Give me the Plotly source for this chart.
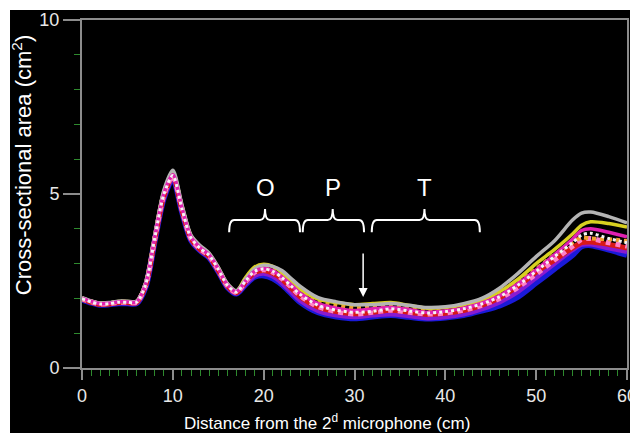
import plotly.graph_objects as go

# ---------------- data ----------------
X = [0, 1, 2, 3, 4, 5, 6, 7, 8, 9, 10, 11, 12, 13, 14, 15, 16, 17,
     18, 19, 20, 21, 22, 23, 24, 26, 28, 30, 32, 34, 36, 38, 40, 42, 44, 46, 48, 50, 52, 54, 55, 56, 58, 60]

gray = [2.02, 1.93, 1.87, 1.88, 1.92, 1.92, 1.92, 2.45, 3.80, 5.10, 5.68, 4.70, 3.82, 3.52, 3.30, 2.90, 2.43, 2.22,
        2.55, 2.85, 2.95, 2.92, 2.80, 2.58, 2.35, 2.02, 1.90, 1.82, 1.82, 1.85, 1.80, 1.74, 1.76, 1.85, 2.00, 2.30, 2.72, 3.20, 3.65, 4.25, 4.45, 4.48, 4.35, 4.17]
yellow = [2.01, 1.92, 1.86, 1.87, 1.91, 1.91, 1.91, 2.43, 3.78, 5.05, 5.62, 4.66, 3.80, 3.50, 3.28, 2.88, 2.42, 2.21,
          2.60, 2.90, 2.98, 2.92, 2.75, 2.50, 2.27, 1.98, 1.88, 1.82, 1.85, 1.88, 1.80, 1.72, 1.74, 1.82, 1.95, 2.20, 2.55, 3.00, 3.40, 3.85, 4.10, 4.20, 4.15, 4.05]
orange = [2.00, 1.91, 1.85, 1.86, 1.90, 1.90, 1.90, 2.41, 3.76, 5.02, 5.58, 4.62, 3.78, 3.48, 3.26, 2.86, 2.40, 2.20,
          2.55, 2.85, 2.92, 2.86, 2.68, 2.45, 2.20, 1.92, 1.80, 1.72, 1.75, 1.80, 1.72, 1.65, 1.68, 1.76, 1.90, 2.12, 2.45, 2.85, 3.25, 3.60, 3.75, 3.72, 3.70, 3.65]
magenta = [2.00, 1.91, 1.85, 1.86, 1.90, 1.90, 1.90, 2.40, 3.74, 5.00, 5.55, 4.60, 3.76, 3.46, 3.25, 2.85, 2.39, 2.19,
           2.50, 2.78, 2.86, 2.80, 2.62, 2.40, 2.15, 1.85, 1.72, 1.65, 1.70, 1.74, 1.68, 1.60, 1.64, 1.72, 1.86, 2.08, 2.42, 2.82, 3.25, 3.70, 3.95, 4.00, 3.90, 3.77]
white = [1.99, 1.90, 1.84, 1.85, 1.89, 1.89, 1.89, 2.39, 3.72, 4.98, 5.53, 4.58, 3.74, 3.44, 3.24, 2.84, 2.38, 2.18,
         2.50, 2.78, 2.85, 2.78, 2.60, 2.36, 2.12, 1.80, 1.66, 1.60, 1.63, 1.70, 1.64, 1.58, 1.62, 1.70, 1.84, 2.05, 2.38, 2.78, 3.20, 3.60, 3.82, 3.87, 3.72, 3.60]
pink = [1.99, 1.90, 1.84, 1.85, 1.89, 1.89, 1.89, 2.38, 3.70, 4.96, 5.52, 4.56, 3.72, 3.42, 3.22, 2.82, 2.37, 2.17,
        2.48, 2.75, 2.82, 2.75, 2.57, 2.33, 2.08, 1.76, 1.62, 1.55, 1.60, 1.66, 1.60, 1.55, 1.58, 1.66, 1.80, 2.00, 2.32, 2.70, 3.10, 3.50, 3.70, 3.72, 3.60, 3.50]
red = [1.98, 1.89, 1.83, 1.84, 1.88, 1.88, 1.88, 2.37, 3.68, 4.94, 5.50, 4.55, 3.71, 3.41, 3.21, 2.81, 2.36, 2.16,
       2.48, 2.74, 2.80, 2.72, 2.55, 2.30, 2.05, 1.75, 1.62, 1.56, 1.60, 1.66, 1.60, 1.54, 1.57, 1.65, 1.80, 2.02, 2.35, 2.75, 3.10, 3.45, 3.60, 3.62, 3.55, 3.45]
purple = [1.98, 1.89, 1.83, 1.84, 1.87, 1.87, 1.87, 2.35, 3.66, 4.90, 5.47, 4.52, 3.69, 3.39, 3.19, 2.79, 2.34, 2.15,
          2.42, 2.66, 2.72, 2.64, 2.45, 2.20, 1.95, 1.65, 1.52, 1.47, 1.52, 1.55, 1.50, 1.44, 1.47, 1.55, 1.70, 1.90, 2.20, 2.60, 3.00, 3.40, 3.55, 3.56, 3.45, 3.35]
blue = [1.97, 1.88, 1.82, 1.83, 1.86, 1.86, 1.86, 2.33, 3.65, 4.88, 5.45, 4.50, 3.68, 3.38, 3.18, 2.78, 2.33, 2.14,
        2.40, 2.62, 2.66, 2.58, 2.40, 2.15, 1.90, 1.60, 1.48, 1.43, 1.48, 1.52, 1.47, 1.42, 1.45, 1.52, 1.65, 1.80, 2.05, 2.45, 2.85, 3.25, 3.50, 3.53, 3.40, 3.25]

x_ticks = [0, 10, 20, 30, 40, 50, 60]
y_ticks = [0, 5, 10]

# segment labels and bracket spans (x start, x end, centre)
seg_labels = ["O", "P", "T"]
seg_start = [16.2, 24.3, 31.9]
seg_end = [24.0, 31.05, 43.8]
seg_mid = [20.15, 27.6, 37.7]
arrow_x = 30.95
arrow_tail_y = 3.33
arrow_head_y = 2.04

# ---------------- figure ----------------
fig = go.Figure()

series = [
    (blue, "#1a1ad8", 6, "solid"),
    (purple, "#8a1ad0", 5, "solid"),
    (red, "#d81818", 5, "solid"),
    (pink, "#ff80c8", 5, "dot"),
    (orange, "#f0a030", 4, "dot"),
    (yellow, "#d8d020", 3.5, "solid"),
    (gray, "#b4b4b4", 3.5, "solid"),
    (magenta, "#e020b0", 3.5, "solid"),
    (white, "#f4f4f4", 3, "dot"),
]
for ys, col, w, dash in series:
    fig.add_trace(go.Scatter(x=X, y=ys, mode="lines",
                             line=dict(color=col, width=w, dash=dash, shape="spline", smoothing=0.8),
                             showlegend=False, hoverinfo="skip"))

# brackets
shapes = []
y_line, y_end, y_tip, r = 4.25, 3.9, 4.57, 0.55
for x0, x1, xc in zip(seg_start, seg_end, seg_mid):
    path = (f"M {x0},{y_end} Q {x0},{y_line} {x0 + r},{y_line} L {xc - r},{y_line} "
            f"Q {xc},{y_line} {xc},{y_tip} Q {xc},{y_line} {xc + r},{y_line} "
            f"L {x1 - r},{y_line} Q {x1},{y_line} {x1},{y_end}")
    shapes.append(dict(type="path", path=path, xref="x", yref="y",
                       line=dict(color="white", width=2)))

# white page border strips (left and top)
shapes.append(dict(type="rect", xref="paper", yref="paper", x0=-0.2, x1=-0.1321, y0=-0.3, y1=1.2,
                   fillcolor="white", line=dict(width=0), layer="above"))
shapes.append(dict(type="rect", xref="paper", yref="paper", x0=-0.2, x1=1.2, y0=1.0287, y1=1.2,
                   fillcolor="white", line=dict(width=0), layer="above"))

annotations = []
for lab, xc in zip(seg_labels, seg_mid):
    annotations.append(dict(x=xc, y=5.2, xref="x", yref="y", text=lab, showarrow=False,
                            font=dict(size=24, color="white")))
annotations.append(dict(x=arrow_x, y=arrow_head_y, ax=arrow_x, ay=arrow_tail_y, xref="x", yref="y",
                        axref="x", ayref="y", text="", showarrow=True, arrowhead=2, arrowsize=1.2,
                        arrowwidth=1.5, arrowcolor="white"))
annotations.append(dict(x=-0.110, y=0.583, xref="paper", yref="paper", xanchor="center", yanchor="middle",
                        text="Cross-sectional area (cm<sup>2</sup>)",
                        textangle=-90, showarrow=False, font=dict(size=22, color="white")))
annotations.append(dict(x=0.45, y=-0.155, xref="paper", yref="paper", xanchor="center", yanchor="middle",
                        text="Distance from the 2<sup>d</sup> microphone (cm)",
                        showarrow=False, font=dict(size=17, color="white")))

axcol = "#8c8c8c"
green = "#2e8a2e"
fig.update_layout(
    width=630, height=433,
    margin=dict(l=82, r=3, t=20, b=65, autoexpand=False),
    paper_bgcolor="black", plot_bgcolor="black",
    font=dict(family="Liberation Sans, Arial, sans-serif", color="white"),
    shapes=shapes, annotations=annotations,
    xaxis=dict(range=[0, 60], tickvals=x_ticks, showgrid=False, zeroline=False, automargin=False,
               showline=True, linecolor=axcol, linewidth=2, mirror=True,
               ticks="outside", ticklen=10, tickwidth=2, tickcolor=axcol,
               tickfont=dict(size=18, color="#e8e8e8"), ticklabeloverflow="allow",
               minor=dict(dtick=1, ticks="outside", ticklen=6, tickwidth=1, tickcolor=green, showgrid=False)),
    yaxis=dict(range=[0, 10], tickvals=y_ticks, showgrid=False, zeroline=False, automargin=False,
               showline=True, linecolor=axcol, linewidth=2, mirror=True,
               ticks="outside", ticklen=17, tickwidth=2, tickcolor=axcol,
               tickfont=dict(size=18, color="#e8e8e8"),
               minor=dict(dtick=1, ticks="outside", ticklen=6, tickwidth=1, tickcolor=green, showgrid=False)),
)

fig.write_html("out.html", config={"displayModeBar": False},
               post_script="document.body.style.margin='0';document.body.style.overflow='hidden';")
